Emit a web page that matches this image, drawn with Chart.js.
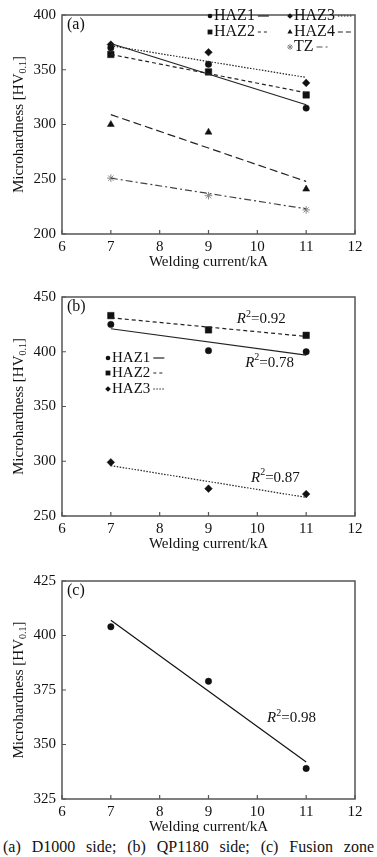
<!DOCTYPE html>
<html>
<head>
<meta charset="utf-8">
<script src="https://cdn.jsdelivr.net/npm/chart.js@4.4.1/dist/chart.umd.min.js"></script>
<style>
body { margin: 0; background: #fff; width: 377px; height: 857px; position: relative; overflow: hidden; }
canvas { position: absolute; left: 0; }
#caption { position: absolute; left: 3px; width: 371px; top: 838px; font: 16px "Liberation Serif", serif;
  text-align: justify; text-align-last: justify; color: #111; line-height: 18px; }
</style>
</head>
<body>
<canvas id="chartA" width="377" height="282" style="top:0px"></canvas>
<canvas id="chartB" width="377" height="284" style="top:282px"></canvas>
<canvas id="chartC" width="377" height="266" style="top:566px"></canvas>
<div id="caption">(a) D1000 side; (b) QP1180 side; (c) Fusion zone</div>
<script>
// measured currents and end points of the fitted lines
const currents = [7, 9, 11];
const fitEnds = [7, 11];

// (a) D1000 side
const aHAZ1 = [370, 355, 315];
const aHAZ2 = [364, 348, 327];
const aHAZ3 = [373, 366, 338];
const aHAZ4 = [300, 293, 241];
const aTZ = [251, 235, 222];
const aFitHAZ1 = [374, 318];
const aFitHAZ2 = [364, 329];
const aFitHAZ3 = [372, 343];
const aFitHAZ4 = [309, 248];
const aFitTZ = [251, 223];

// (b) QP1180 side
const bHAZ1 = [425, 401, 400];
const bHAZ2 = [433, 420, 415];
const bHAZ3 = [299, 275, 270];
const bFitHAZ1 = [421, 397];
const bFitHAZ2 = [431, 414];
const bFitHAZ3 = [296, 267];

// (c) Fusion zone
const cFZ = [404, 379, 339];
const cFit = [407, 342];

const FONT = '"Liberation Serif", "Times New Roman", serif';
const INK = '#111';
const GREY = '#8a8a8a';

function pts(xs, ys) {
    return xs.map((x, i) => ({ x: x, y: ys[i] }));
}

function markers(ys, style, r, color) {
    return {
        data: pts(currents, ys),
        pointStyle: style,
        pointRadius: r,
        backgroundColor: color || INK,
        borderColor: color || INK,
        borderWidth: style === 'star' ? 1 : 0.5,
        showLine: false
    };
}

function fitLine(ys, dash, color) {
    return {
        data: pts(fitEnds, ys),
        showLine: true,
        pointRadius: 0,
        borderColor: color || '#222',
        borderWidth: 1.2,
        borderDash: dash
    };
}

// draws R^2=value with italic R and raised 2
function drawR2(ctx, x, y, value) {
    ctx.textAlign = 'left';
    ctx.textBaseline = 'middle';
    ctx.font = 'italic 15px ' + FONT;
    ctx.fillText('R', x, y);
    let w = ctx.measureText('R').width;
    ctx.font = '10px ' + FONT;
    ctx.fillText('2', x + w, y - 5);
    w += ctx.measureText('2').width;
    ctx.font = '15px ' + FONT;
    ctx.fillText('=' + value, x + w, y);
}

const decorPlugin = {
    id: 'decor',
    afterDraw(chart, args, opts) {
        const ctx = chart.ctx;
        const area = chart.chartArea;
        const xs = chart.scales.x;
        const ys = chart.scales.y;
        ctx.save();

        // frame
        ctx.strokeStyle = '#555';
        ctx.lineWidth = 1.5;
        ctx.strokeRect(area.left, area.top, area.right - area.left, area.bottom - area.top);

        // inward tick marks
        ctx.lineWidth = 1.2;
        ctx.beginPath();
        xs.ticks.forEach(t => {
            const px = xs.getPixelForValue(t.value);
            ctx.moveTo(px, area.bottom);
            ctx.lineTo(px, area.bottom - 4);
        });
        ys.ticks.forEach(t => {
            const py = ys.getPixelForValue(t.value);
            ctx.moveTo(area.left, py);
            ctx.lineTo(area.left + 4, py);
        });
        ctx.stroke();

        ctx.fillStyle = INK;

        // x title
        ctx.font = '15px ' + FONT;
        ctx.textAlign = 'center';
        ctx.textBaseline = 'middle';
        ctx.fillText('Welding current/kA', (area.left + area.right) / 2, area.bottom + 28);

        // y title with subscript
        ctx.save();
        ctx.translate(19, (area.top + area.bottom) / 2);
        ctx.rotate(-Math.PI / 2);
        ctx.textAlign = 'left';
        ctx.font = '15px ' + FONT;
        const w1 = ctx.measureText('Microhardness [HV').width;
        const w3 = ctx.measureText(']').width;
        ctx.font = '10px ' + FONT;
        const w2 = ctx.measureText('0.1').width;
        const x0 = -(w1 + w2 + w3) / 2;
        ctx.font = '15px ' + FONT;
        ctx.fillText('Microhardness [HV', x0, 0);
        ctx.font = '10px ' + FONT;
        ctx.fillText('0.1', x0 + w1, 4);
        ctx.font = '15px ' + FONT;
        ctx.fillText(']', x0 + w1 + w2, 0);
        ctx.restore();

        // panel label
        ctx.font = '16px ' + FONT;
        ctx.textAlign = 'left';
        ctx.fillText(opts.label, area.left + 5, area.top + 10);

        // legend
        (opts.legend || []).forEach(item => {
            ctx.fillStyle = item.color || INK;
            ctx.strokeStyle = item.color || INK;
            ctx.lineWidth = 1;
            Chart.helpers.drawPoint(ctx, { pointStyle: item.style, radius: item.r, rotation: 0, borderWidth: item.style === 'star' ? 1 : 0 }, item.x, item.y);
            ctx.fillStyle = INK;
            ctx.font = opts.legendSize + 'px ' + FONT;
            ctx.textAlign = 'left';
            ctx.textBaseline = 'middle';
            ctx.fillText(item.text, item.x + 4, item.y);
            const tw = ctx.measureText(item.text).width;
            ctx.strokeStyle = item.lineColor || '#222';
            ctx.lineWidth = 1.2;
            ctx.setLineDash(item.dash);
            ctx.beginPath();
            ctx.moveTo(item.x + 7 + tw, item.y);
            ctx.lineTo(item.x + 7 + tw + item.len, item.y);
            ctx.stroke();
            ctx.setLineDash([]);
        });

        // R^2 notes placed in data space
        ctx.fillStyle = INK;
        (opts.notes || []).forEach(n => {
            drawR2(ctx, xs.getPixelForValue(n.x), ys.getPixelForValue(n.y), n.text);
        });

        ctx.restore();
    }
};

function makeChart(id, datasets, yMin, yMax, yStep, xAxisHeight, decor) {
    const tickFont = { family: FONT, size: 15 };
    return new Chart(document.getElementById(id), {
        type: 'scatter',
        data: { datasets: datasets },
        options: {
            responsive: false,
            animation: false,
            layout: { padding: { top: 6, right: 22, left: 0, bottom: 0 }, autoPadding: false },
            plugins: { legend: { display: false }, tooltip: { enabled: false }, decor: decor },
            scales: {
                x: {
                    type: 'linear', min: 6, max: 12,
                    ticks: { stepSize: 1, padding: 4, color: INK, font: tickFont },
                    grid: { display: false, drawTicks: false },
                    border: { display: false },
                    afterFit: s => { s.height = xAxisHeight; }
                },
                y: {
                    type: 'linear', min: yMin, max: yMax,
                    ticks: { stepSize: yStep, padding: 6, color: INK, font: tickFont },
                    grid: { display: false, drawTicks: false },
                    border: { display: false },
                    afterFit: s => { s.width = 62; }
                }
            }
        },
        plugins: [decorPlugin]
    });
}

// (a)
makeChart('chartA', [
    fitLine(aFitHAZ1, []),
    fitLine(aFitHAZ2, [4, 3]),
    fitLine(aFitHAZ3, [1.5, 1.5]),
    fitLine(aFitHAZ4, [8, 4]),
    fitLine(aFitTZ, [7, 3, 2, 3], '#444'),
    markers(aHAZ1, 'circle', 3.2),
    markers(aHAZ2, 'rect', 4.6),
    markers(aHAZ3, 'rectRot', 3.8),
    markers(aHAZ4, 'triangle', 4),
    markers(aTZ, 'star', 3.8, GREY)
], 200, 400, 50, 48, {
    label: '(a)',
    legendSize: 16,
    legend: [
        { text: 'HAZ1', style: 'circle', r: 2.3, x: 210, y: 16, dash: [], len: 11 },
        { text: 'HAZ2', style: 'rect', r: 3.4, x: 210, y: 32, dash: [3, 3], len: 11 },
        { text: 'HAZ3', style: 'rectRot', r: 2.8, x: 290, y: 16, dash: [1.5, 1.5], len: 15 },
        { text: 'HAZ4', style: 'triangle', r: 3, x: 290, y: 32, dash: [5, 3], len: 15 },
        { text: 'TZ', style: 'star', r: 3, x: 290, y: 47, dash: [6, 3, 2, 3], len: 14, color: GREY, lineColor: '#555' }
    ]
});

// (b)
makeChart('chartB', [
    fitLine(bFitHAZ1, []),
    fitLine(bFitHAZ2, [4, 3]),
    fitLine(bFitHAZ3, [1.5, 1.5]),
    markers(bHAZ1, 'circle', 3.2),
    markers(bHAZ2, 'rect', 4.6),
    markers(bHAZ3, 'rectRot', 3.8)
], 250, 450, 50, 50, {
    label: '(b)',
    legendSize: 15,
    legend: [
        { text: 'HAZ1', style: 'circle', r: 2.3, x: 108, y: 76, dash: [], len: 11 },
        { text: 'HAZ2', style: 'rect', r: 3.4, x: 108, y: 91, dash: [3, 3], len: 11 },
        { text: 'HAZ3', style: 'rectRot', r: 2.8, x: 108, y: 107, dash: [1.5, 1.5], len: 11 }
    ],
    notes: [
        { x: 9.58, y: 430, text: '0.92' },
        { x: 9.75, y: 390, text: '0.78' },
        { x: 9.87, y: 285, text: '0.87' }
    ]
});

// (c)
makeChart('chartC', [
    fitLine(cFit, [], '#111'),
    markers(cFZ, 'circle', 3.2)
], 325, 425, 25, 33, {
    label: '(c)',
    legendSize: 15,
    notes: [
        { x: 10.2, y: 362, text: '0.98' }
    ]
});
</script>
</body>
</html>
